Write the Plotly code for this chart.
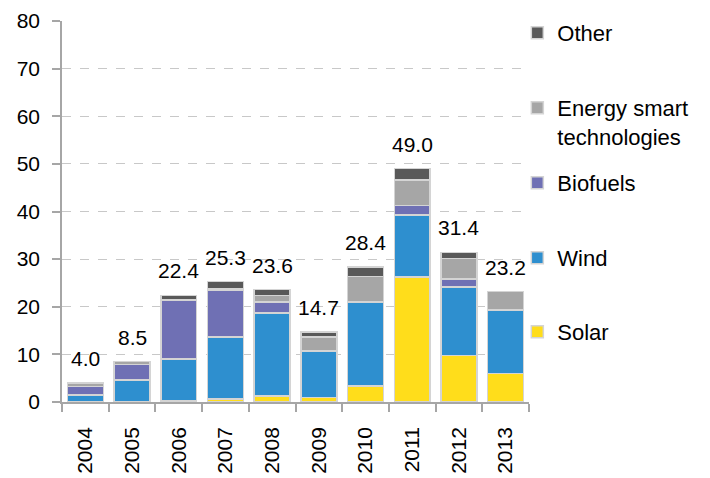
import plotly.graph_objects as go

years = ["2004", "2005", "2006", "2007", "2008", "2009", "2010", "2011", "2012", "2013"]
solar = [0.1, 0.05, 0.2, 0.6, 1.3, 0.9, 3.4, 26.3, 9.8, 6.0]
wind = [1.4, 4.6, 8.8, 13.0, 17.4, 9.7, 17.5, 13.0, 14.4, 13.3]
biofuels = [1.8, 3.25, 12.3, 9.9, 2.3, 0.1, 0.1, 2.0, 1.6, 0.1]
energy_smart = [0.7, 0.6, 0.1, 0.2, 1.4, 3.0, 5.4, 5.3, 4.3, 3.8]
other = [0.0, 0.0, 1.0, 1.6, 1.2, 1.0, 2.0, 2.4, 1.3, 0.0]
totals = [4.0, 8.5, 22.4, 25.3, 23.6, 14.7, 28.4, 49.0, 31.4, 23.2]
y_ticks = [0, 10, 20, 30, 40, 50, 60, 70, 80]

FONT = "Liberation Sans, Arial, sans-serif"
series = [
    ("Solar", solar, "#FFDD1B", "legend5", 332),
    ("Wind", wind, "#2E8FCF", "legend4", 258),
    ("Biofuels", biofuels, "#6F70B4", "legend3", 183),
    ("Energy smart<br>technologies", energy_smart, "#A6A6A6", "legend2", 108),
    ("Other", other, "#595959", "legend", 33),
]

fig = go.Figure()
for name, vals, color, leg, _ in series:
    fig.add_trace(go.Bar(
        x=years, y=vals, name=name, legend=leg,
        marker=dict(color=color, line=dict(color="#D4D4D4", width=1.5)),
        width=0.77, hoverinfo="x+y+name",
    ))

for i, tot in enumerate(totals):
    fig.add_annotation(x=i, y=tot, text=f"{tot:.1f}", showarrow=False,
                       yanchor="bottom", yshift=11,
                       font=dict(family=FONT, size=21, color="#000000"))

# page body adds an 8px offset; compensate
OFF = 8
W, H = 710 - OFF, 478 - OFF
top_px, bot_px = 21, 402
legend_layout = {}
for name, vals, color, leg, ypx in series:
    yp = (bot_px - (ypx - 21)) / (bot_px - top_px)
    legend_layout[leg] = dict(
        x=0.975, xanchor="left", y=yp, yanchor="top", valign="top",
        bgcolor="rgba(0,0,0,0)", borderwidth=0, itemwidth=30,
        font=dict(family=FONT, size=22, color="#000000"),
        tracegroupgap=0,
    )

fig.update_layout(
    width=W, height=H,
    margin=dict(l=62 - OFF, r=181, t=21 - OFF, b=76, autoexpand=False),
    paper_bgcolor="white", plot_bgcolor="white",
    barmode="stack", bargap=0.23,
    font=dict(family=FONT, size=20, color="#000000"),
    showlegend=True,
    **legend_layout,
)

fig.update_xaxes(
    type="category", tickangle=-90,
    showline=True, linecolor="#A6A6A6", linewidth=1.5,
    ticks="outside", tickson="boundaries", ticklen=8, tickcolor="#A6A6A6", tickwidth=1.5,
    tickfont=dict(family=FONT, size=21, color="#000000"),
    ticklabelstandoff=15,
    showgrid=False,
)
fig.update_yaxes(
    range=[0, 80], tickvals=y_ticks,
    showline=True, linecolor="#A6A6A6", linewidth=1.5,
    ticks="outside", ticklen=8, tickcolor="#A6A6A6", tickwidth=1.5,
    tickfont=dict(family=FONT, size=21, color="#000000"),
    ticklabelstandoff=8,
    showgrid=True, gridcolor="#C8C8C8", griddash="dash", gridwidth=1,
    zeroline=False,
)

fig.write_html("out.html")
